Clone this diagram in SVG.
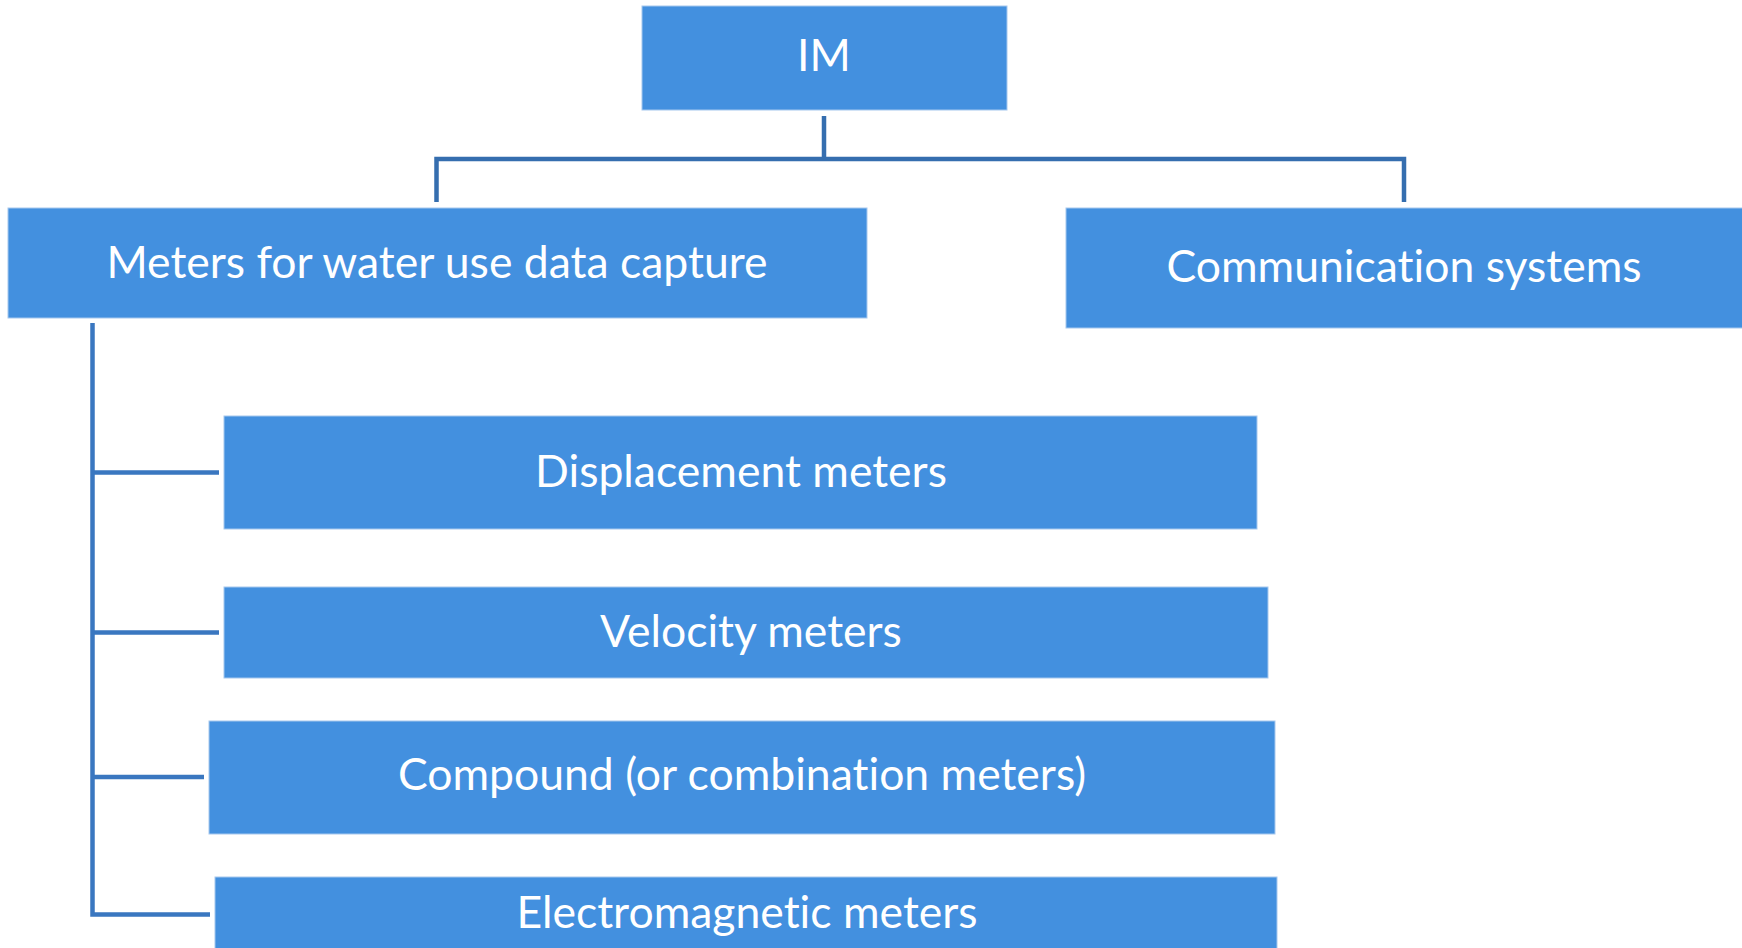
<svg xmlns="http://www.w3.org/2000/svg" width="1742" height="948" viewBox="0 0 1742 948">
<style>
.box{fill:#4390DF;stroke:#A6C8EE;stroke-width:1}
.lbl{fill:#ffffff;font-family:Lato,"Open Sans","Liberation Sans",sans-serif;font-size:44.5px;text-anchor:middle;font-variant-ligatures:none}
.con{fill:none;stroke:#3A77C0;stroke-width:4.5;stroke-linecap:butt;stroke-linejoin:miter}
.top{stroke:#356EAF}
</style>
<rect width="1742" height="948" fill="#ffffff"/>
<g id="connectors">
<path class="con top" d="M824,116 V159 M436.5,202 V159 H1404 V202"/>
<path class="con" d="M92.5,323 V914.5 H210 M92.5,472.5 H219 M92.5,632.5 H219 M92.5,777 H204"/>
</g>
<g id="n-im"><rect class="box" x="642" y="6" width="365" height="104"/><text class="lbl" x="824" y="71">IM</text></g>
<g id="n-meters"><rect class="box" x="8" y="208" width="859" height="110"/><text class="lbl" x="437" y="278">Meters for water use data capture</text></g>
<g id="n-comm"><rect class="box" x="1066" y="208" width="677" height="120"/><text class="lbl" x="1404" y="282">Communication systems</text></g>
<g id="n-disp"><rect class="box" x="224" y="416" width="1033" height="113"/><text class="lbl" x="741" y="487">Displacement meters</text></g>
<g id="n-vel"><rect class="box" x="224" y="587" width="1044" height="91"/><text class="lbl" x="751" y="647">Velocity meters</text></g>
<g id="n-comp"><rect class="box" x="209" y="721" width="1066" height="113"/><text class="lbl" x="742" y="790">Compound (or combination meters)</text></g>
<g id="n-em"><rect class="box" x="215" y="877" width="1062" height="80"/><text class="lbl" x="747" y="928">Electromagnetic meters</text></g>
</svg>
